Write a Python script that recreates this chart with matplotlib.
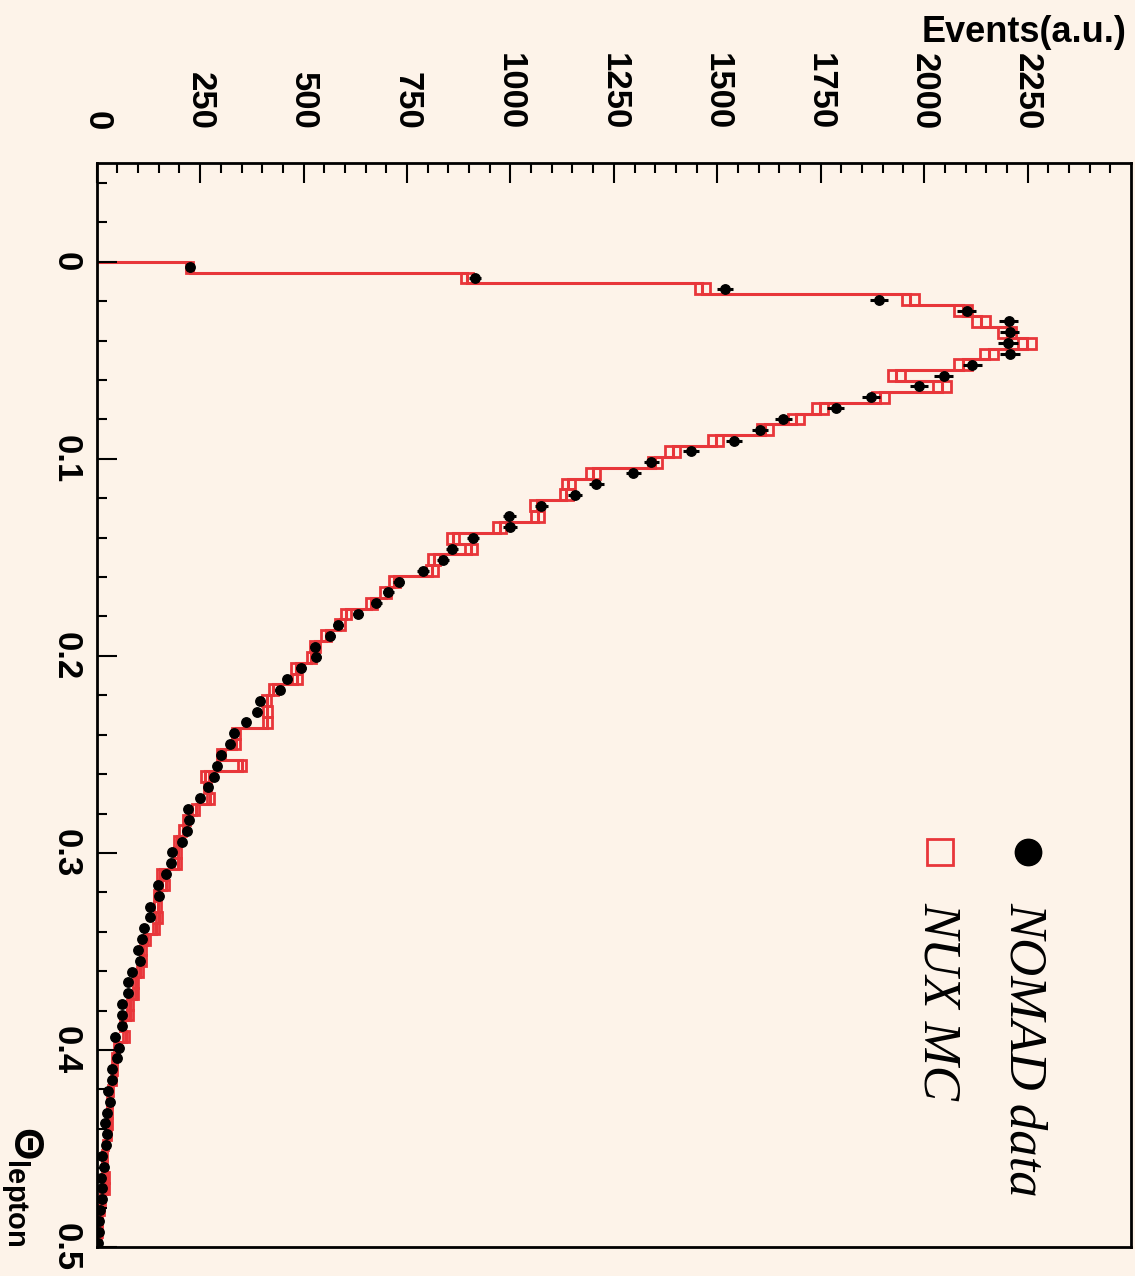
import numpy as np
import matplotlib
matplotlib.use("Agg")
import matplotlib.pyplot as plt

# lepton angle histogram: bins of 0.0055 starting at 0
bin_width = 0.0055

nomad_data = [225, 914, 1518, 1892, 2103, 2204, 2207, 2203, 2208, 2116,
              2047, 1987, 1872, 1786, 1660, 1603, 1540, 1436, 1341, 1297,
              1208, 1156, 1075, 997, 999, 910, 858, 836, 788, 730,
              705, 676, 632, 584, 565, 527, 530, 494, 461, 442,
              395, 387, 360, 332, 321, 301, 291, 283, 269, 250,
              221, 222, 219, 205, 181, 180, 167, 147, 151, 128,
              128, 115, 109, 100, 105, 86, 76, 76, 61, 61,
              61, 44, 55, 49, 38, 38, 28, 33, 24, 20,
              24, 23, 14, 18, 10, 14, 14, 8, 6, 5, 4]

nux_mc = [225, 895, 1464, 1966, 2094, 2137, 2200, 2248, 2157, 2094,
          1933, 2043, 1894, 1749, 1690, 1615, 1496, 1392, 1350, 1200,
          1140, 1135, 1064, 1066, 974, 862, 904, 815, 811, 719,
          699, 664, 603, 589, 555, 527, 519, 482, 484, 427,
          411, 412, 412, 337, 337, 300, 352, 262, 268, 275,
          239, 218, 208, 194, 196, 196, 153, 167, 146, 147,
          151, 144, 121, 111, 113, 105, 94, 94, 80, 80,
          62, 71, 48, 44, 44, 40, 34, 32, 32, 32,
          28, 22, 18, 18, 24, 24, 14, 12, 8, 7, 6]

events_ticks = [0, 250, 500, 750, 1000, 1250, 1500, 1750, 2000, 2250]
theta_ticks = [0.0, 0.1, 0.2, 0.3, 0.4, 0.5]
theta_labels = ["0", "0.1", "0.2", "0.3", "0.4", "0.5"]

bg = "#fdf3e9"
red = "#e8363a"

plt.rcParams["font.family"] = ["Liberation Sans", "DejaVu Sans"]
plt.rcParams["font.weight"] = "bold"
plt.rcParams["mathtext.fontset"] = "custom"
plt.rcParams["mathtext.rm"] = "Liberation Sans:bold"
plt.rcParams["mathtext.bf"] = "Liberation Sans:bold"

data = np.array(nomad_data, dtype=float)
mc = np.array(nux_mc, dtype=float)
edges = np.arange(len(mc) + 1) * bin_width
centers = edges[:-1] + bin_width / 2
data_err = np.sqrt(0.25 * data)
mc_err = np.sqrt(0.2 * mc + 30)

fig = plt.figure(figsize=(11.35, 12.76), dpi=100, facecolor=bg)
ax = fig.add_axes([96.7 / 1135, 29 / 1276, (1131 - 96.7) / 1135, (1247 - 163.3) / 1276],
                  facecolor=bg)

# MC: error boxes + step outline, drawn sideways (angle runs downwards)
ax.barh(centers, 2 * mc_err, left=mc - mc_err, height=bin_width,
        fill=False, edgecolor=red, linewidth=2.0)
ax.stairs(mc, edges, orientation="horizontal", baseline=0,
          color=red, linewidth=2.2)

# data points
ax.errorbar(data, centers, xerr=data_err, fmt="o", color="black",
            ms=6.8, elinewidth=2.2, capsize=0)

ax.set_xlim(0, 2500)
ax.set_ylim(0.5, -0.05)

ax.xaxis.tick_top()
ax.set_xticks(events_ticks)
ax.set_xticklabels([str(v) for v in events_ticks])
ax.set_xticks(np.arange(0, 2500, 50), minor=True)
ax.set_yticks(theta_ticks)
ax.set_yticklabels(theta_labels)
ax.set_yticks(np.arange(-0.04, 0.5, 0.02), minor=True)

ax.tick_params(axis="x", which="both", direction="in", top=True, bottom=False,
               width=1.5, color="black")
ax.tick_params(axis="x", which="major", length=14.4, pad=24, labelsize=25,
               labelrotation=-90)
ax.tick_params(axis="x", which="minor", length=7.2)
ax.tick_params(axis="y", which="both", direction="in", left=True, right=False,
               width=1.5, color="black")
ax.tick_params(axis="y", which="major", length=14.4, pad=10, labelsize=25,
               labelrotation=-90)
ax.tick_params(axis="y", which="minor", length=7.2)
for lab in ax.get_yticklabels():
    lab.set_va("center")
for lab in ax.get_xticklabels():
    lab.set_va("bottom")

for sp in ax.spines.values():
    sp.set_linewidth(2.0)
    sp.set_color("black")

# legend
ax.plot([0.900], [0.3645], "o", color="black", ms=19, transform=ax.transAxes,
        clip_on=False)
ax.plot([0.815], [0.3645], "s", mfc="none", mec=red, mew=2.0, ms=19,
        transform=ax.transAxes, clip_on=False)
ax.text(0.896, 0.318, "NOMAD data", transform=ax.transAxes, rotation=-90,
        ha="center", va="top", fontsize=38, family=["Liberation Serif"],
        style="italic", weight="normal")
ax.text(0.813, 0.318, "NUX MC", transform=ax.transAxes, rotation=-90,
        ha="center", va="top", fontsize=38, family=["Liberation Serif"],
        style="italic", weight="normal")

# axis titles
fig.text(1127 / 1135, 1 - 33 / 1276, "Events(a.u.)", ha="right", va="center",
         fontsize=26, weight="bold")
fig.text(22 / 1135, (1276 - 1246) / 1276, r"$\mathbf{\Theta}_{\mathbf{lepton}}$",
         ha="center", va="bottom", rotation=-90, fontsize=30)

fig.savefig("out.png", dpi=100, facecolor=bg)
